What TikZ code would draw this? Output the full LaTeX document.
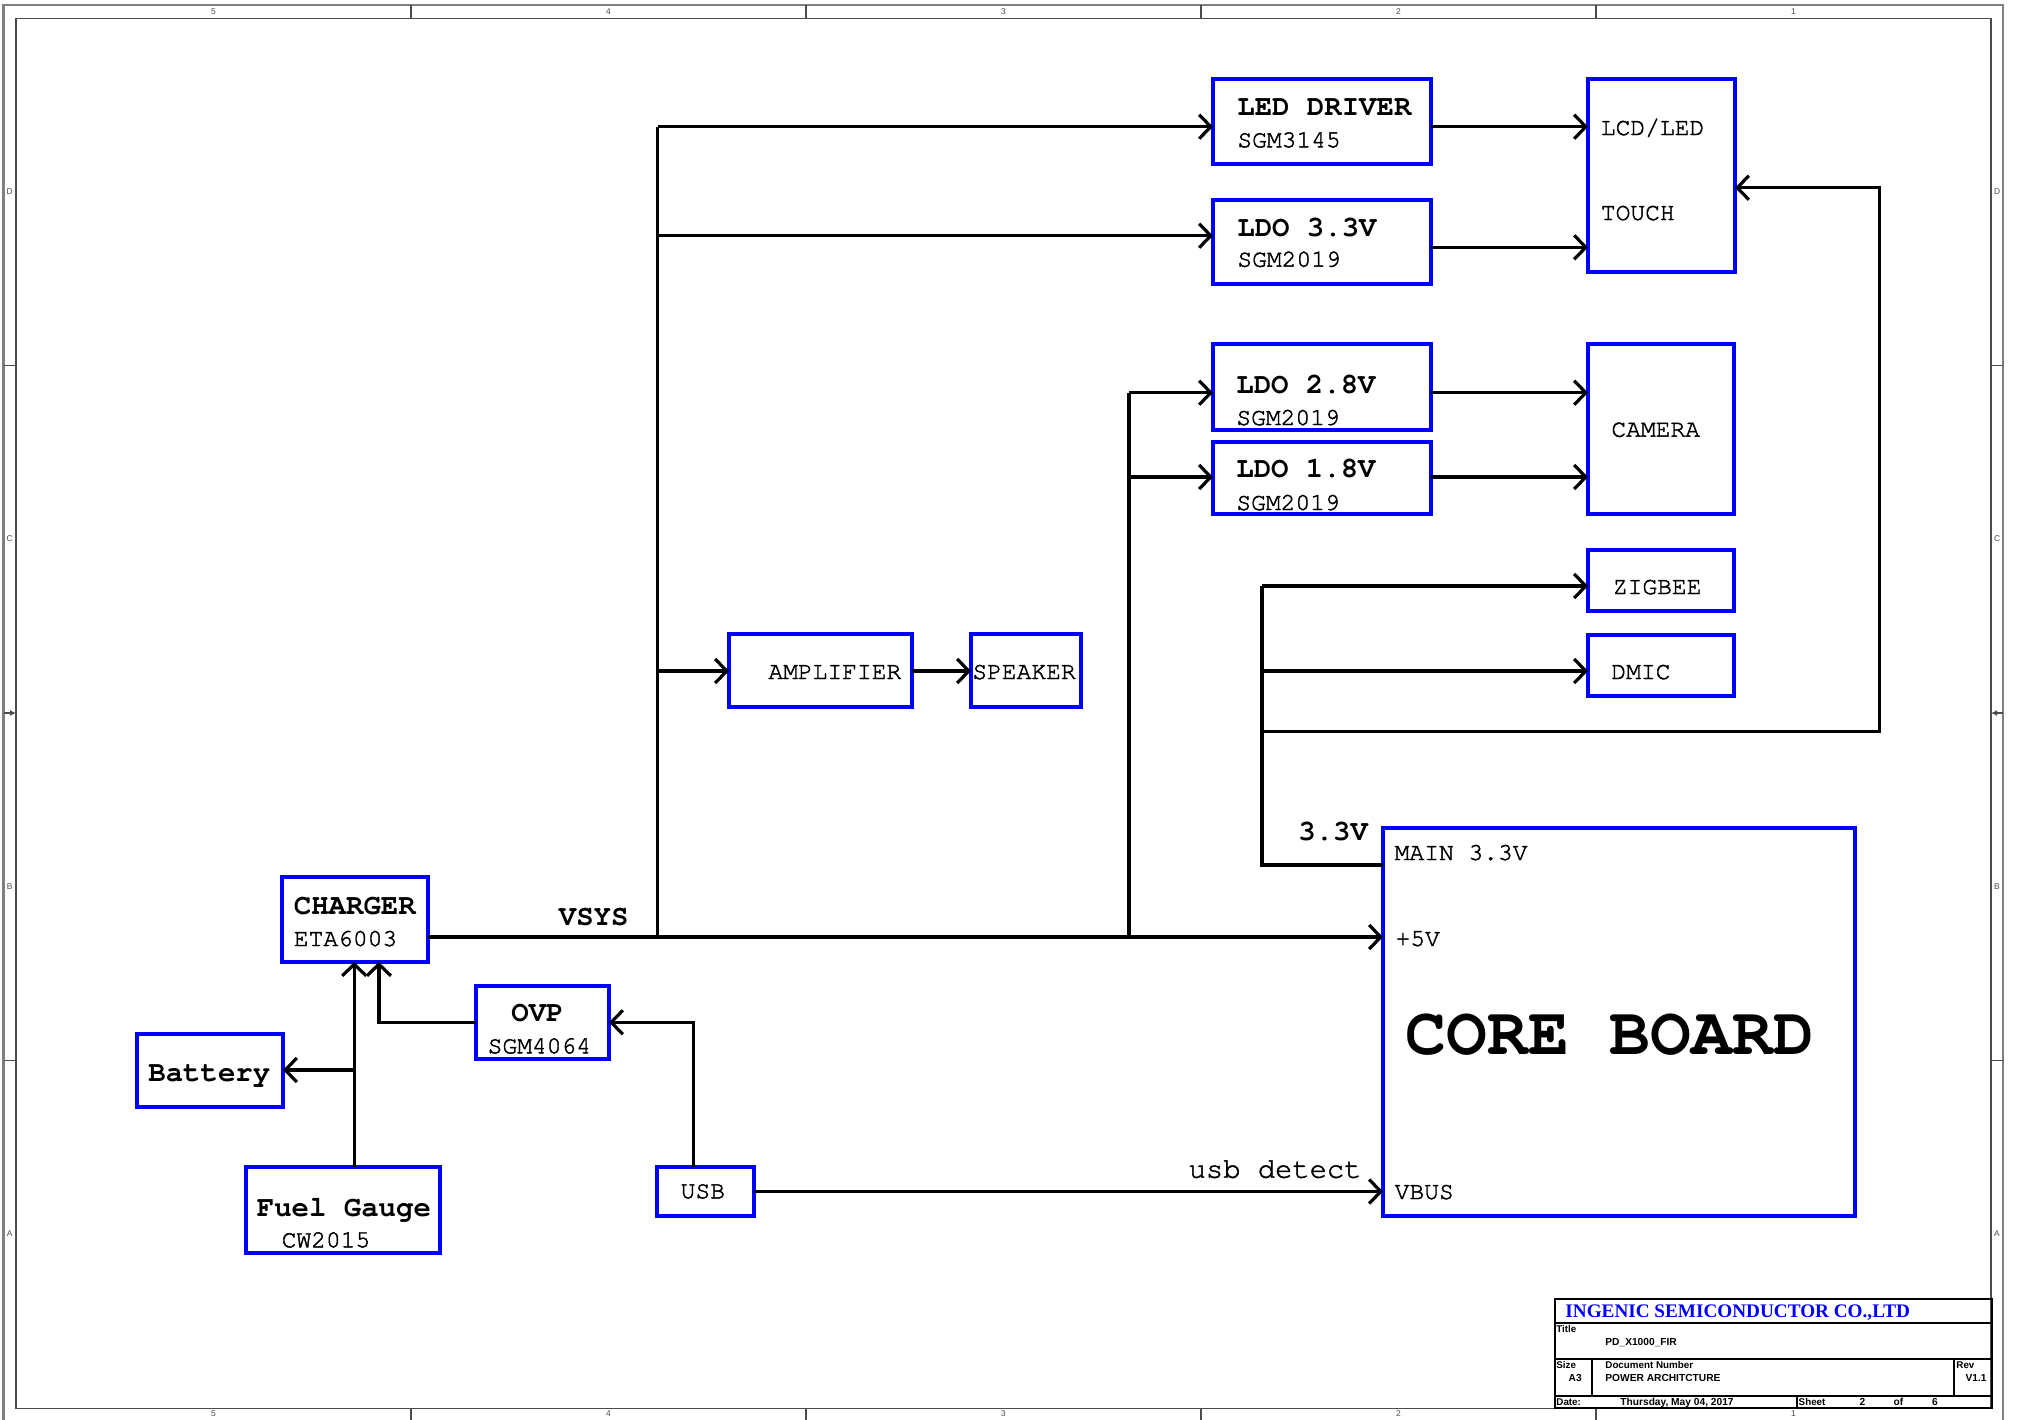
\documentclass[tikz,border=0pt]{standalone}
\usepackage[T1]{fontenc}
\usepackage{fontspec}
\newfontfamily\lsans{Liberation Sans}
\newfontfamily\lserif{Liberation Serif}
\newcommand{\crfont}{\fontencoding{T1}\fontfamily{pcr}\selectfont}
\newcommand{\heavyon}{\special{pdf:literal direct 2 Tr 0.22 w}}
\newcommand{\heavyoff}{\special{pdf:literal direct 0 Tr}}
\usetikzlibrary{arrows.meta,fit}
\definecolor{boxblue}{RGB}{0,0,255}
\definecolor{framegray}{RGB}{128,128,128}
\begin{document}
\begin{tikzpicture}[x=0.5pt,y=-0.5pt,
  box/.style={draw=boxblue,line width=2pt,inner sep=0pt,outer sep=0pt},
  wire/.style={line width=1.6pt,black},
  arr/.style={-{Straight Barb[length=5.8pt,width=12pt]}},
  ttl/.style={font=\crfont\bfseries\fontsize{14.5}{16}\selectfont,anchor=base west,inner sep=0pt},
  sub/.style={font=\crfont\fontsize{12.3}{14}\selectfont,anchor=base west,inner sep=0pt,
    execute at begin node=\heavyon, execute at end node=\heavyoff},
  big/.style={font=\crfont\fontsize{14.4}{16}\selectfont,anchor=base west,inner sep=0pt,
    execute at begin node=\heavyon, execute at end node=\heavyoff},
  huge/.style={font=\crfont\bfseries\fontsize{34}{38}\selectfont,anchor=base west,inner sep=0pt},
  outerf/.style={draw=framegray,line width=1.1pt},
  innerf/.style={draw=black!70,line width=0.6pt},
  flab/.style={font=\lsans\fontsize{4.2}{5}\selectfont,text=black!70,inner sep=0pt},
  tbline/.style={draw=black,line width=0.9pt},
  tbs/.style={font=\lsans\bfseries\fontsize{4.9}{6}\selectfont,anchor=base west,inner sep=0pt},
  tbv/.style={font=\lsans\bfseries\fontsize{5.1}{6}\selectfont,anchor=base west,inner sep=0pt}
]
\useasboundingbox (0,0) rectangle (2021,1419);
\clip (0,0) rectangle (2021,1419);
\fill[white] (0,0) rectangle (2021,1419);

% ---------- frame ----------
\draw[outerf] (3.5,1440) -- (3.5,5.3) -- (2003,5.3) -- (2003,1440);
\draw[innerf] (16,18.3) rectangle (1991,1408.3);
\foreach \x in {411,806,1201,1596} {
  \draw[innerf] (\x,5.3) -- (\x,18.3);
  \draw[innerf] (\x,1408.3) -- (\x,1440);
}
\foreach \y in {365.5,1060.5} {
  \draw[innerf] (3.5,\y) -- (16,\y);
  \draw[innerf] (1991,\y) -- (2003,\y);
}
\draw[innerf,-{Latex[length=3pt,width=3pt]}] (3.5,713) -- (16,713);
\draw[innerf,-{Latex[length=3pt,width=3pt]}] (2003,713) -- (1991,713);
\foreach \n/\x in {5/213.5,4/608.5,3/1003.5,2/1398.5,1/1793.5} {
  \node[flab] (ft\n) at (\x,12) {\n};
  \node[flab] (fb\n) at (\x,1414) {\n};
}
\foreach \n/\y in {D/192,C/539,B/887,A/1234} {
  \node[flab] (fl\n) at (9.7,\y) {\n};
  \node[flab] (fr\n) at (1997,\y) {\n};
}

% ---------- boxes ----------
\node[box,fit={(1213,79) (1431,164)}] (led) {};
\node[box,fit={(1213,200) (1431,284)}] (ldo33) {};
\node[box,fit={(1213,344) (1431,430)}] (ldo28) {};
\node[box,fit={(1213,442) (1431,514)}] (ldo18) {};
\node[box,fit={(1588,79) (1735,272)}] (lcd) {};
\node[box,fit={(1588,344) (1734,514)}] (cam) {};
\node[box,fit={(1588,550) (1734,611)}] (zig) {};
\node[box,fit={(1588,635) (1734,696)}] (dmic) {};
\node[box,fit={(729,634) (912,707)}] (amp) {};
\node[box,fit={(971,634) (1081,707)}] (spk) {};
\node[box,fit={(282,877) (428,962)}] (chg) {};
\node[box,fit={(476,986) (609,1059)}] (ovp) {};
\node[box,fit={(137,1034) (283,1107)}] (bat) {};
\node[box,fit={(246,1167) (440,1253)}] (fuel) {};
\node[box,fit={(657,1167) (754,1216)}] (usb) {};
\node[box,fit={(1383,828) (1855,1216)}] (core) {};

% ---------- texts ----------
\node[ttl] (tled) at (1237,115) {LED DRIVER};
\node[sub] (tled2) at (1237,147.3) {SGM3145};
\node[ttl] (tl33) at (1237,236) {LDO 3.3V};
\node[sub] (tl332) at (1237,266.7) {SGM2019};
\node[ttl] (tl28) at (1236,393.3) {LDO 2.8V};
\node[sub] (tl282) at (1236,425) {SGM2019};
\node[ttl] (tl18) at (1236,477.7) {LDO 1.8V};
\node[sub] (tl182) at (1236,510) {SGM2019};
\node[sub] (tlcd) at (1600.5,135) {LCD/LED};
\node[sub] (ttouch) at (1600.5,220) {TOUCH};
\node[sub] (tcam) at (1611,436.7) {CAMERA};
\node[sub] (tzig) at (1612.5,594) {ZIGBEE};
\node[sub] (tdmic) at (1611,679) {DMIC};
\node[sub] (tamp) at (768,679) {AMPLIFIER};
\node[sub] (tspk) at (972,679) {SPEAKER};
\node[ttl] (tchg) at (293.5,914) {CHARGER};
\node[sub] (tchg2) at (293.5,946) {ETA6003};
\node[ttl] (tvsys) at (558.5,925) {VSYS};
\node[ttl] (tovp) at (511,1021.7) {OVP};
\node[sub] (tovp2) at (487.3,1053.3) {SGM4064};
\node[ttl] (tbat) at (148,1081.7) {Battery};
\node[ttl] (tfuel) at (256.5,1216) {Fuel Gauge};
\node[sub] (tfuel2) at (281.3,1247.3) {CW2015};
\node[sub] (tusb) at (680.3,1198.3) {USB};
\node[ttl] (t33) at (1298,840.7) {3.3V};
\node[sub] (tmain) at (1394.3,860) {MAIN 3.3V};
\node[sub] (t5v) at (1395.2,946) {+5V};
\node[huge] (tcore) at (1405.5,1054) {CORE BOARD};
\node[big] (tdet) at (1188.3,1177.7) {usb detect};
\node[sub] (tvbus) at (1394.3,1199) {VBUS};

% ---------- VSYS net ----------
\coordinate (v1) at (657.5,937);
\coordinate (v2) at (1129,937);
\coordinate (a1) at (657.5,126.7);
\coordinate (a2) at (657.5,235.7);
\coordinate (a3) at (657.5,671);
\coordinate (b1) at (1129,392.7);
\coordinate (b2) at (1129,477);
\coordinate (c1) at (1431,247.3);
\draw[wire,arr] (chg.east |- v1) -- (core.west |- v1);
\draw[wire] (v1) -- (a1);
\draw[wire,arr] (a1) -- (led.west |- a1);
\draw[wire,arr] (a2) -- (ldo33.west |- a2);
\draw[wire,arr] (a3) -- (amp.west |- a3);
\draw[wire] (v2) -- (b1);
\draw[wire,arr] (b1) -- (ldo28.west |- b1);
\draw[wire,arr] (b2) -- (ldo18.west |- b2);
\draw[wire,arr] (led.east |- a1) -- (lcd.west |- a1);
\draw[wire,arr] (ldo33.east |- c1) -- (lcd.west |- c1);
\draw[wire,arr] (ldo28.east |- b1) -- (cam.west |- b1);
\draw[wire,arr] (ldo18.east |- b2) -- (cam.west |- b2);
\draw[wire,arr] (amp.east |- a3) -- (spk.west |- a3);

% ---------- 3.3V net ----------
\coordinate (k1) at (1262,865);
\coordinate (k2) at (1262,586);
\coordinate (k3) at (1262,671);
\coordinate (k4) at (1262,731.7);
\coordinate (k5) at (1879.3,731.7);
\coordinate (k6) at (1879.3,187.7);
\draw[wire] (core.west |- k1) -- (k1) -- (k2);
\draw[wire,arr] (k2) -- (zig.west |- k2);
\draw[wire,arr] (k3) -- (dmic.west |- k3);
\draw[wire,arr] (k4) -- (k5) -- (k6) -- (lcd.east |- k6);

% ---------- USB / charger ----------
\coordinate (u1) at (693.7,1022.3);
\coordinate (u2) at (754,1191.5);
\coordinate (o1) at (378.9,1022.3);
\coordinate (f1) at (354.2,1070);
\draw[wire,arr] (usb.north -| u1) -- (u1) -- (ovp.east |- u1);
\draw[wire,arr] (usb.east |- u2) -- (core.west |- u2);
\draw[wire,arr] (ovp.west |- o1) -- (o1) -- (o1 |- chg.south);
\draw[wire,arr] (fuel.north -| f1) -- (f1 |- chg.south);
\draw[wire,arr] (f1) -- (bat.east |- f1);

% ---------- title block ----------
\node[tbline,inner sep=0pt,outer sep=0pt,fit={(1555,1299.3) (1991.7,1408.3)}] (tblock) {};
\draw[tbline] (1555,1322.7) -- (1991.7,1322.7);
\draw[tbline] (1555,1359.3) -- (1991.7,1359.3);
\draw[tbline] (1555,1396) -- (1991.7,1396);
\draw[tbline] (1592.3,1359.3) -- (1592.3,1396);
\draw[tbline] (1954.3,1359.3) -- (1954.3,1396);
\draw[tbline] (1797.3,1396) -- (1797.3,1408.3);
\node[font=\lserif\bfseries\fontsize{9.6}{11}\selectfont,text=boxblue,anchor=base west,inner sep=0pt] (tco) at (1565,1317.7) {INGENIC SEMICONDUCTOR CO.,LTD};
\node[tbs] (tb1) at (1556,1332.7) {Title};
\node[tbv] (tb2) at (1605,1345) {PD\_X1000\_FIR};
\node[tbs] (tb3) at (1556,1368.3) {Size};
\node[tbv] (tb4) at (1568.3,1381.7) {A3};
\node[tbs] (tb5) at (1605,1368.3) {Document Number};
\node[tbv] (tb6) at (1605,1381.7) {POWER ARCHITCTURE};
\node[tbs] (tb7) at (1956,1368.3) {Rev};
\node[tbv,anchor=base east] (tb8) at (1987,1381.7) {V1.1};
\node[tbs] (tb9) at (1556,1405) {Date:};
\node[tbv] (tb10) at (1620,1405) {Thursday, May 04, 2017};
\node[tbs] (tb11) at (1798.3,1405) {Sheet};
\node[tbv] (tb12) at (1859.3,1405) {2};
\node[tbv] (tb13) at (1893.3,1405) {of};
\node[tbv] (tb14) at (1931.7,1405) {6};
\end{tikzpicture}
\end{document}
